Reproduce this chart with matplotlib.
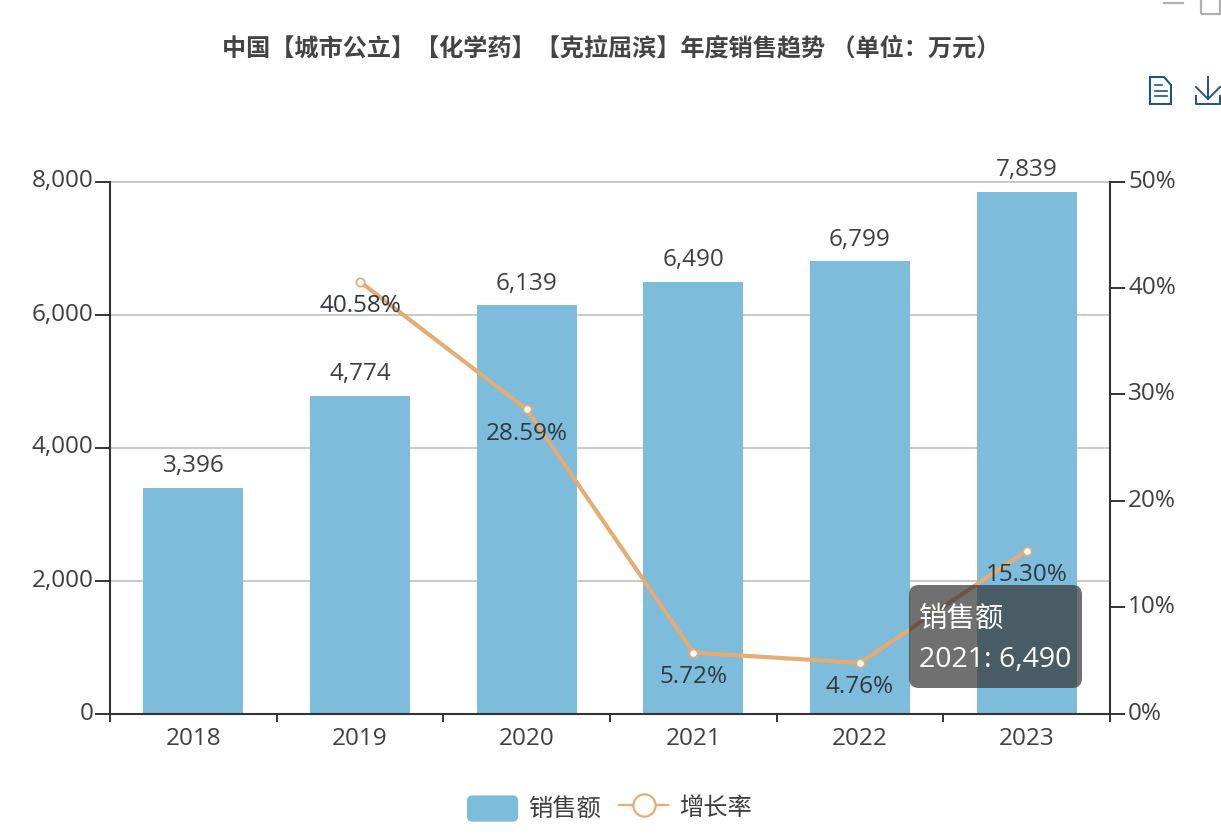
import matplotlib
matplotlib.use("Agg")
import matplotlib.pyplot as plt
from matplotlib.legend_handler import HandlerPatch
from matplotlib.lines import Line2D
from matplotlib.patches import FancyBboxPatch, Patch, Polygon, Rectangle
from matplotlib.transforms import ScaledTranslation

plt.rcParams["font.family"] = ["Open Sans", "Noto Sans CJK SC"]

years = ["2018", "2019", "2020", "2021", "2022", "2023"]
sales = [3396, 4774, 6139, 6490, 6799, 7839]
growth_years = [1, 2, 3, 4, 5]
growth = [40.58, 28.59, 5.72, 4.76, 15.30]
sales_ticks = [0, 2000, 4000, 6000, 8000]
growth_ticks = [0, 10, 20, 30, 40, 50]

W, H = 1221, 834
text_col = "#3f3f3f"
bar_col = "#7dbcdb"
line_col = "#e5ac74"
axis_col = "#333333"
icon_col = "#1f5480"
fs = 17.5


def fx(px):
    return px / W


def fy(py):
    return 1 - py / H


fig = plt.figure(figsize=(W / 100, H / 100), dpi=100)
ax = fig.add_axes([fx(110), fy(713.5), 1000 / W, 532 / H])
ax.set_xlim(-0.5, 5.5)
ax.set_ylim(0, 8000)

x = list(range(len(years)))
ax.bar(x, sales, width=0.6, color=bar_col, zorder=2)
for xi, v in zip(x, sales):
    ax.annotate(f"{v:,}", (xi, v), xytext=(0, 7), textcoords="offset points",
                ha="center", va="bottom", fontsize=fs, color=text_col, zorder=5)

ax.set_yticks(sales_ticks)
ax.set_yticklabels([f"{t:,}" for t in sales_ticks])
ax.set_xticks([i - 0.5 for i in range(len(years) + 1)])
ax.set_xticklabels([])
ax.set_xticks(x, minor=True)
ax.set_xticklabels(years, minor=True)
ax.tick_params(axis="x", which="major", length=6, width=1.4, color=axis_col)
ax.tick_params(axis="x", which="minor", length=0, pad=10, labelsize=fs, labelcolor=text_col)
ax.tick_params(axis="y", length=11, width=1.4, color=axis_col, pad=1, labelsize=fs, labelcolor=text_col)
ax.grid(axis="y", color="#c4c4c4", lw=1.3, zorder=1, clip_on=False)
ax.set_axisbelow(True)
for s in ["top", "right"]:
    ax.spines[s].set_visible(False)
for s in ["left", "bottom"]:
    ax.spines[s].set_color(axis_col)
    ax.spines[s].set_linewidth(1.5)

ax2 = ax.twinx()
ax2.set_ylim(0, 50)
ax2.set_yticks(growth_ticks)
ax2.set_yticklabels([f"{t}%" for t in growth_ticks])
ax2.tick_params(axis="y", length=11, width=1.4, color=axis_col, pad=2, labelsize=fs, labelcolor=text_col)
for s in ["top", "left", "bottom"]:
    ax2.spines[s].set_visible(False)
ax2.spines["right"].set_color(axis_col)
ax2.spines["right"].set_linewidth(1.5)
ax2.plot(growth_years, growth, color=line_col, lw=3, marker="o", ms=6,
         mfc="white", mec=line_col, mew=1.3, zorder=4)
for xi, v in zip(growth_years, growth):
    ax2.annotate(f"{v:.2f}%", (xi, v), xytext=(0, -9), textcoords="offset points",
                 ha="center", va="top", fontsize=fs, color="#2f3a40", zorder=5)

# y tick labels sit a little above their ticks
shift_up = ScaledTranslation(0, 0.03, fig.dpi_scale_trans)
for lab in ax.get_yticklabels() + ax2.get_yticklabels():
    lab.set_transform(lab.get_transform() + shift_up)

fig.text(fx(611), fy(49), "中国【城市公立】【化学药】【克拉屈滨】年度销售趋势 （单位：万元）",
         ha="center", va="center", fontsize=17.4, fontweight="bold", color="#444444")


# legend with a rounded swatch
def rounded_patch(legend, orig_handle, xdescent, ydescent, width, height, fontsize):
    return FancyBboxPatch((-xdescent, -ydescent - 1), width, height,
                          boxstyle="round,pad=0,rounding_size=3.5", mutation_aspect=1)


handles = [Patch(color=bar_col, label="销售额"),
           Line2D([], [], color=line_col, lw=1.6, marker="o", ms=16, mfc="white",
                  mec=line_col, mew=1.6, label="增长率")]
fig.legend(handles=handles, loc="center", bbox_to_anchor=(fx(609.5), fy(808)), ncols=2,
           frameon=False, fontsize=fs, labelcolor=text_col, handlelength=2.05, handleheight=1.2,
           handletextpad=0.42, columnspacing=0.75, borderpad=0, labelspacing=0,
           handler_map={Patch: HandlerPatch(patch_func=rounded_patch)})

# tooltip stays on top of the chart
tip = FancyBboxPatch((fx(909), fy(688)), 173 / W, 103 / H, transform=fig.transFigure,
                     boxstyle="round,pad=0,rounding_size=0.008", mutation_aspect=W / H,
                     fc="#333333", ec="none", alpha=0.7, zorder=10)
fig.add_artist(tip)
fig.text(fx(919), fy(620), "销售额", ha="left", va="center", fontsize=20.5, color="white", zorder=11)
fig.text(fx(919), fy(660), "2021: 6,490", ha="left", va="center", fontsize=20.5, color="white", zorder=11)

# toolbox icons
doc = Polygon([(fx(1150), fy(77)), (fx(1164), fy(77)), (fx(1171), fy(85)),
               (fx(1171), fy(104)), (fx(1150), fy(104))], closed=True, transform=fig.transFigure,
              fc="none", ec=icon_col, lw=1.5)
fig.add_artist(doc)
for y0, x1 in [(85, 1162), (91, 1167), (96, 1167)]:
    fig.add_artist(Line2D([fx(1155), fx(x1)], [fy(y0), fy(y0)], color=icon_col, lw=1.2))
for xs, ys in [([1208, 1208], [77, 99]), ([1196, 1208, 1220], [87, 99, 87]),
               ([1196, 1196, 1220, 1220], [96, 104, 104, 96])]:
    fig.add_artist(Line2D([fx(v) for v in xs], [fy(v) for v in ys], color=icon_col, lw=1.4))

# window buttons clipped at the top edge
fig.add_artist(Line2D([fx(1164), fx(1183)], [fy(3), fy(3)], color="#b0b0b0", lw=1.6))
fig.add_artist(Rectangle((fx(1201), fy(14)), 19 / W, 20 / H, transform=fig.transFigure,
                         fc="none", ec="#b0b0b0", lw=1.6))

fig.savefig("out.png", dpi=100)
